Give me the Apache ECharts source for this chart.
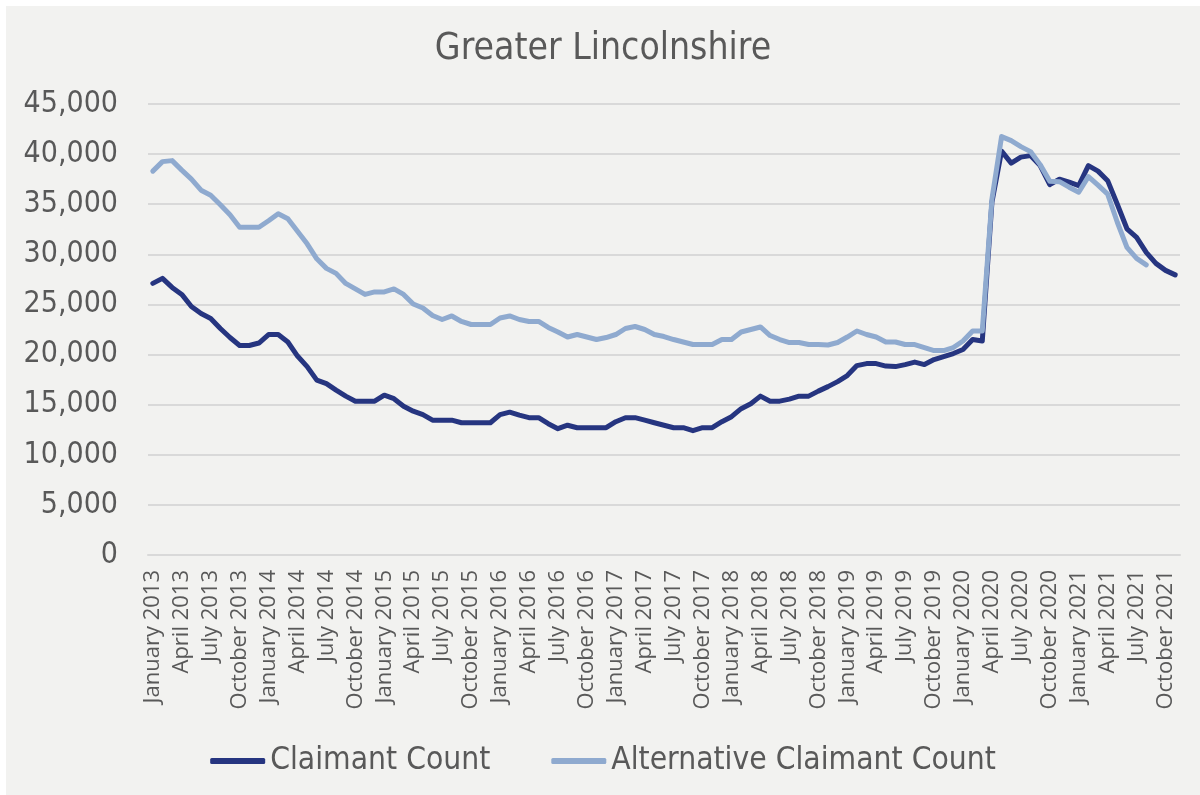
<!DOCTYPE html>
<html>
<head>
<meta charset="utf-8">
<title>Greater Lincolnshire</title>
<script src="https://cdn.jsdelivr.net/npm/echarts@6/dist/echarts.min.js"></script>
<style>
  html, body { margin: 0; padding: 0; background: #ffffff; }
  #frame { position: relative; width: 1200px; height: 795px; overflow: hidden; }
  #chart { position: absolute; left: 6px; top: 6px; width: 1194px; height: 789px; background: #f2f2f0; }
</style>
</head>
<body>
<div id="frame"><div id="chart"></div></div>
<script>
// Month names and the years covered by the series (January 2013 to November 2021)
const MONTH_NAMES = ['January', 'February', 'March', 'April', 'May', 'June',
  'July', 'August', 'September', 'October', 'November', 'December'];
const FIRST_YEAR = 2013;
const MONTH_COUNT = 107;

// Claimant Count, monthly, January 2013 to November 2021
const claimantCount = [
  27100, 27600, 26700, 26000, 24800, 24100, 23600, 22600, 21700, 20900, 20900, 21150,
  22000, 22000, 21250, 19850, 18800, 17450, 17100, 16450, 15850, 15350, 15350, 15350,
  15950, 15600, 14850, 14350, 14000, 13450, 13450, 13450, 13200, 13200, 13200, 13200,
  14000, 14250, 13950, 13700, 13700, 13100, 12600, 12950, 12700, 12700, 12700, 12700,
  13300, 13700, 13700, 13450, 13200, 12950, 12700, 12700, 12400, 12700, 12700, 13300,
  13800, 14600, 15100, 15850, 15350, 15350, 15550, 15850, 15850, 16350, 16800, 17300,
  17900, 18900, 19100, 19100, 18850, 18800, 19000, 19250, 19000, 19500, 19800, 20100,
  20500, 21500, 21350, 35200, 40300, 39100, 39700, 39850, 38850, 36950, 37500, 37200,
  36850, 38850, 38300, 37350, 35000, 32550, 31700, 30200, 29100, 28400, 27950
];

// Alternative Claimant Count, monthly, January 2013 to August 2021
const alternativeClaimantCount = [
  38300, 39250, 39350, 38400, 37500, 36400, 35900, 34950, 33950, 32700, 32700, 32700,
  33350, 34050, 33550, 32300, 31050, 29550, 28600, 28100, 27100, 26550, 26000, 26250,
  26250, 26550, 26000, 25050, 24650, 23900, 23500, 23850, 23300, 23000, 23000, 23000,
  23650, 23850, 23500, 23300, 23300, 22700, 22250, 21750, 22000, 21750, 21500, 21700,
  22000, 22600, 22800, 22500, 22000, 21800, 21500, 21250, 21000, 21000, 21000, 21500,
  21500, 22250, 22500, 22750, 21900, 21500, 21200, 21200, 21000, 21000, 20950, 21200,
  21750, 22350, 22000, 21750, 21250, 21250, 21000, 21000, 20700, 20400, 20400, 20700,
  21350, 22350, 22350, 35500, 41750, 41350, 40750, 40250, 38950, 37300, 37250, 36700,
  36200, 37750, 36900, 36000, 33200, 30700, 29600, 28950
];

// Value axis ticks
const yTicks = [0, 5000, 10000, 15000, 20000, 25000, 30000, 35000, 40000, 45000];

const months = [];
for (let i = 0; i < MONTH_COUNT; i++) {
  months.push(MONTH_NAMES[i % 12] + ' ' + (FIRST_YEAR + Math.floor(i / 12)));
}

const TEXT_COLOR = '#595959';
const MAIN_FONT = '"DejaVu Sans Condensed", "DejaVu Sans", sans-serif';
const DARK_BLUE = '#263580';
const LIGHT_BLUE = '#8faacf';

const chart = echarts.init(document.getElementById('chart'), null, { renderer: 'canvas' });

chart.setOption({
  backgroundColor: '#f2f2f0',
  animation: false,
  title: {
    text: 'Greater Lincolnshire',
    left: 'center',
    top: 20,
    textStyle: {
      color: TEXT_COLOR,
      fontFamily: MAIN_FONT,
      fontSize: 37,
      fontWeight: 'normal'
    }
  },
  legend: {
    left: 'center',
    top: 734,
    icon: 'roundRect',
    itemWidth: 55,
    itemHeight: 6,
    itemGap: 61,
    textStyle: {
      color: TEXT_COLOR,
      fontFamily: MAIN_FONT,
      fontSize: 31.5
    },
    data: ['Claimant Count', 'Alternative Claimant Count']
  },
  grid: {
    left: 142,
    right: 20,
    top: 98,
    bottom: 240,
    containLabel: false
  },
  xAxis: {
    type: 'category',
    data: months,
    boundaryGap: true,
    axisLine: { show: true, lineStyle: { color: '#d9d9d9', width: 2 } },
    axisTick: { show: false },
    splitLine: { show: false },
    axisLabel: {
      interval: 2,
      rotate: 90,
      margin: 15,
      color: TEXT_COLOR,
      fontFamily: '"Open Sans", "Noto Sans", sans-serif',
      fontSize: 22
    }
  },
  yAxis: {
    type: 'value',
    min: yTicks[0],
    max: yTicks[yTicks.length - 1],
    interval: yTicks[1] - yTicks[0],
    axisLine: { show: false },
    axisTick: { show: false },
    splitLine: { show: true, lineStyle: { color: '#d9d9d9', width: 2 } },
    axisLabel: {
      margin: 30,
      color: TEXT_COLOR,
      fontFamily: MAIN_FONT,
      fontSize: 30,
      formatter: function (v) { return v.toLocaleString('en-GB'); }
    }
  },
  series: [
    {
      name: 'Claimant Count',
      type: 'line',
      data: claimantCount,
      symbol: 'none',
      showSymbol: false,
      smooth: false,
      lineStyle: { color: DARK_BLUE, width: 5, cap: 'round', join: 'round' },
      itemStyle: { color: DARK_BLUE }
    },
    {
      name: 'Alternative Claimant Count',
      type: 'line',
      data: alternativeClaimantCount,
      symbol: 'none',
      showSymbol: false,
      smooth: false,
      lineStyle: { color: LIGHT_BLUE, width: 5, cap: 'round', join: 'round' },
      itemStyle: { color: LIGHT_BLUE }
    }
  ]
});
</script>
</body>
</html>
